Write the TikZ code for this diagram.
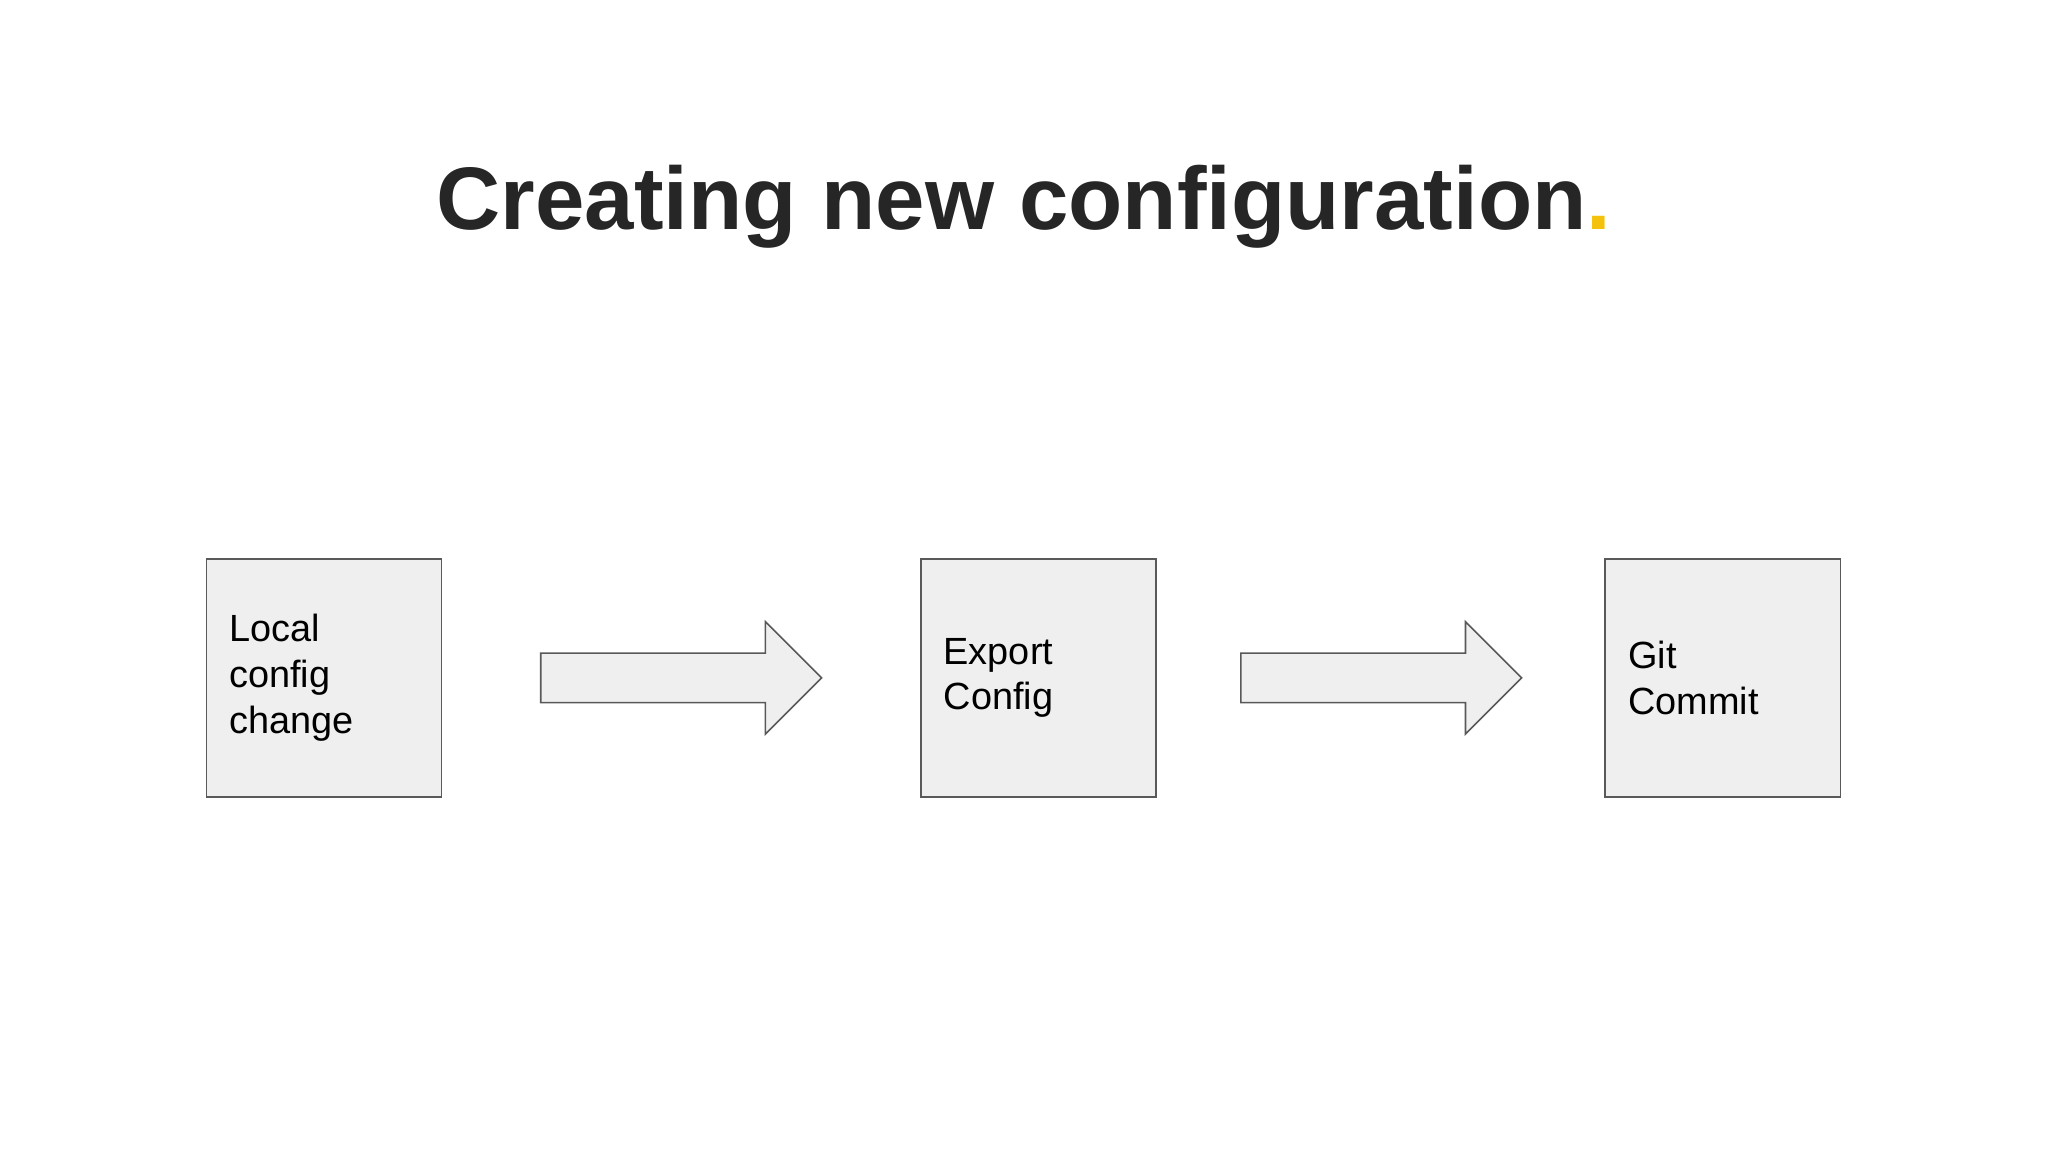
\documentclass[tikz,border=0pt]{standalone}
\usepackage{fontspec}
\setmainfont{Liberation Sans}
\definecolor{boxfill}{HTML}{EFEFEF}
\definecolor{boxline}{HTML}{595959}
\definecolor{titlec}{HTML}{262626}
\definecolor{dotc}{HTML}{F4C20D}
\begin{document}
\begin{tikzpicture}[x=1pt,y=-1pt,
  stepbox/.style={draw=boxline,fill=boxfill,line width=1.2pt,minimum width=180pt,minimum height=182pt,inner sep=0pt},
  lbl/.style={align=left,anchor=west,font=\fontsize{29}{35}\selectfont,text=black},
  fatarrow/.style={draw=boxline,fill=boxfill,line width=1.2pt}]
\useasboundingbox (0,0) rectangle (1568,882);
\node[font=\bfseries\fontsize{68}{80}\selectfont,text=titlec] (title) at (784,158) {Creating new configuration\textcolor{dotc}{.}};
\node[stepbox] (a) at (248,519) {};
\node[stepbox] (b) at (795,519) {};
\node[stepbox] (c) at (1319,519) {};
\node[lbl] (ta) at (172,519) {Local\\config\\change};
\node[lbl] (tb) at (719,519) {Export\\Config};
\node[lbl] (tc) at (1243,519) {Git\\Commit};
\foreach \s in {414,950}{
  \draw[fatarrow] (\s,500) -- (\s+172,500) -- (\s+172,476) -- (\s+215,519) -- (\s+172,562) -- (\s+172,538) -- (\s,538) -- cycle;
}
\end{tikzpicture}
\end{document}
